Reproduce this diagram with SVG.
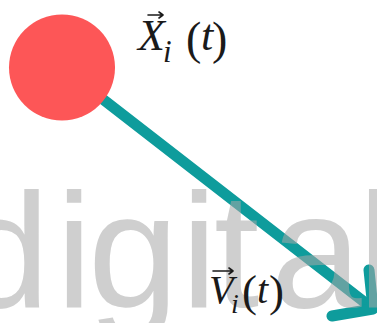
<svg xmlns="http://www.w3.org/2000/svg" width="377" height="323" viewBox="0 0 377 323">
  <style>
    .lbl { font-family: "Liberation Serif", "DejaVu Serif", serif; fill: #1a1a1a; }
    .it { font-style: italic; }
    .vec { stroke: #1a1a1a; stroke-width: 1.6; fill: none; stroke-linecap: round; stroke-linejoin: round; }
    .arrow { stroke: #0e9c9c; stroke-width: 11; fill: none; stroke-linecap: round; stroke-linejoin: round; }
    .wm { font-family: "Liberation Sans", Arial, sans-serif; font-size: 163px; fill: #a8a8a8; fill-opacity: 0.55; }
  </style>
  <rect width="377" height="323" fill="#ffffff"/>
  <g id="connectors">
    <path class="arrow" d="M 62 67.5 L 372 308"/>
    <path class="arrow" d="M 369 270 L 373 309 L 332 316"/>
  </g>
  <g id="particle">
    <circle cx="62" cy="67.5" r="53" fill="#fd5657"/>
  </g>
  <g id="watermark">
    <text class="wm" x="-41 56 88 181 214 271 358" y="307">digital</text>
  </g>
  <g id="label-x">
    <text class="lbl" font-size="44"><tspan class="it" x="138" y="50">X</tspan><tspan class="it" font-size="31" x="163" y="62">i</tspan><tspan font-size="46" x="186" y="54">(</tspan><tspan class="it" x="201" y="50">t</tspan><tspan font-size="46" x="212" y="54">)</tspan></text>
    <path class="vec" d="M 148 15 L 163 15 M 159 12 L 163 15 L 159 18"/>
  </g>
  <g id="label-v">
    <text class="lbl" font-size="40"><tspan class="it" x="209" y="303">V</tspan><tspan class="it" font-size="28" x="231" y="313">i</tspan><tspan font-size="45" x="242" y="306">(</tspan><tspan class="it" x="257" y="303">t</tspan><tspan font-size="45" x="269" y="306">)</tspan></text>
    <path class="vec" d="M 213 271 L 233 271 M 229 268 L 233 271 L 229 274"/>
  </g>
</svg>
